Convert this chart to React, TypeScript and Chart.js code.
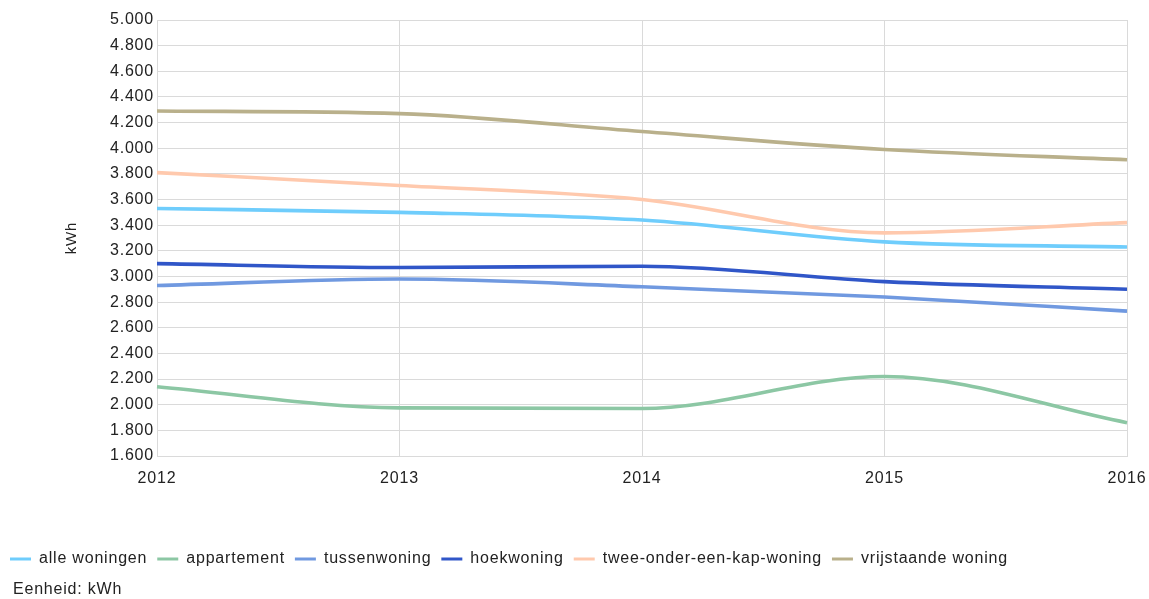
import React, { useEffect, useRef } from 'react';
import { Chart, registerables } from 'chart.js';

Chart.register(...registerables);

const years = ['2012', '2013', '2014', '2015', '2016'];
const alleWoningen = [3530, 3500, 3440, 3270, 3230];
const appartement = [2140, 1975, 1970, 2220, 1860];
const tussenwoning = [2930, 2980, 2920, 2840, 2730];
const hoekwoning = [3100, 3070, 3080, 2960, 2900];
const tweeOnderEenKap = [3810, 3710, 3600, 3340, 3420];
const vrijstaande = [4290, 4270, 4130, 3990, 3910];

const seriesNames = [
  'alle woningen',
  'appartement',
  'tussenwoning',
  'hoekwoning',
  'twee-onder-een-kap-woning',
  'vrijstaande woning',
];
const seriesValues = [alleWoningen, appartement, tussenwoning, hoekwoning, tweeOnderEenKap, vrijstaande];
const seriesColors = ['#6fcdfc', '#8cc7a4', '#7099e0', '#3056c8', '#ffc9ad', '#b9b08b'];

const yMin = 1600;
const yMax = 5000;
const yStep = 200;
const unitNote = 'Eenheid: kWh';
const yTitle = 'kWh';

const FONT = '"Liberation Sans", Arial, sans-serif';
const SPACING = '0.8px';

function fmt(v: number): string {
  const s = Math.round(v).toString();
  return s.replace(/\B(?=(\d{3})+(?!\d))/g, '.');
}

function applySpacing(chart: any) {
  const ctx = chart.ctx as any;
  if (ctx && 'letterSpacing' in ctx) ctx.letterSpacing = SPACING;
}

const spacingPlugin = {
  id: 'spacing',
  beforeUpdate(chart: any) {
    applySpacing(chart);
  },
  beforeLayout(chart: any) {
    applySpacing(chart);
  },
  beforeDraw(chart: any) {
    applySpacing(chart);
  },
};

const notePlugin = {
  id: 'unitNote',
  afterDraw(chart: any) {
    const ctx = chart.ctx;
    ctx.save();
    applySpacing(chart);
    ctx.font = `16px ${FONT}`;
    ctx.fillStyle = '#222';
    ctx.textBaseline = 'middle';
    ctx.textAlign = 'left';
    ctx.fillText(unitNote, 13, 590);
    ctx.restore();
  },
};

export default function App() {
  const ref = useRef<HTMLCanvasElement | null>(null);
  useEffect(() => {
    if (!ref.current) return;
    const chart = new Chart(ref.current, {
      type: 'line',
      data: {
        labels: years,
        datasets: seriesNames.map((name, i) => ({
          label: name,
          data: seriesValues[i],
          borderColor: seriesColors[i],
          backgroundColor: seriesColors[i],
          borderWidth: 3.6,
          pointRadius: 0,
          pointHoverRadius: 0,
          cubicInterpolationMode: 'monotone' as const,
          fill: false,
        })),
      },
      options: {
        animation: false,
        responsive: true,
        maintainAspectRatio: false,
        layout: { padding: { left: 0, right: 22, top: 20, bottom: 22 } },
        scales: {
          x: {
            offset: false,
            grid: { color: '#dadada', drawTicks: false, lineWidth: 1 },
            border: { color: '#dadada' },
            ticks: { color: '#222', font: { family: FONT, size: 16 }, padding: 13, maxRotation: 0 },
            afterFit(scale: any) {
              scale.height = 85;
              scale.paddingRight = 0;
              scale.paddingLeft = 0;
            },
          },
          y: {
            min: yMin,
            max: yMax,
            grid: { color: '#dadada', drawTicks: false, lineWidth: 1 },
            border: { color: '#dadada' },
            ticks: {
              stepSize: yStep,
              color: '#222',
              font: { family: FONT, size: 16 },
              padding: 3,
              callback: (v: any) => fmt(Number(v)),
            },
            title: {
              display: true,
              text: yTitle,
              color: '#222',
              font: { family: FONT, size: 15 },
              padding: { top: 63, bottom: 0 },
            },
            afterFit(scale: any) {
              scale.width = 157;
            },
          },
        },
        plugins: {
          legend: {
            display: true,
            position: 'bottom',
            align: 'start',
            labels: {
              boxWidth: 21,
              boxHeight: 3,
              padding: 10,
              color: '#222',
              font: { family: FONT, size: 16 },
              generateLabels(chart: any) {
                const items = Chart.defaults.plugins.legend.labels.generateLabels(chart);
                return items.map((it: any, i: number) => ({
                  ...it,
                  fillStyle: seriesColors[i],
                  strokeStyle: seriesColors[i],
                  lineWidth: 0,
                }));
              },
            },
          },
          tooltip: { enabled: false },
          title: { display: false },
        },
      },
      plugins: [spacingPlugin, notePlugin],
    });
    return () => chart.destroy();
  }, []);
  return (
    <div style={{ position: 'fixed', left: 0, top: 0, width: 1149, height: 599, background: '#fff' }}>
      <canvas ref={ref} />
    </div>
  );
}
